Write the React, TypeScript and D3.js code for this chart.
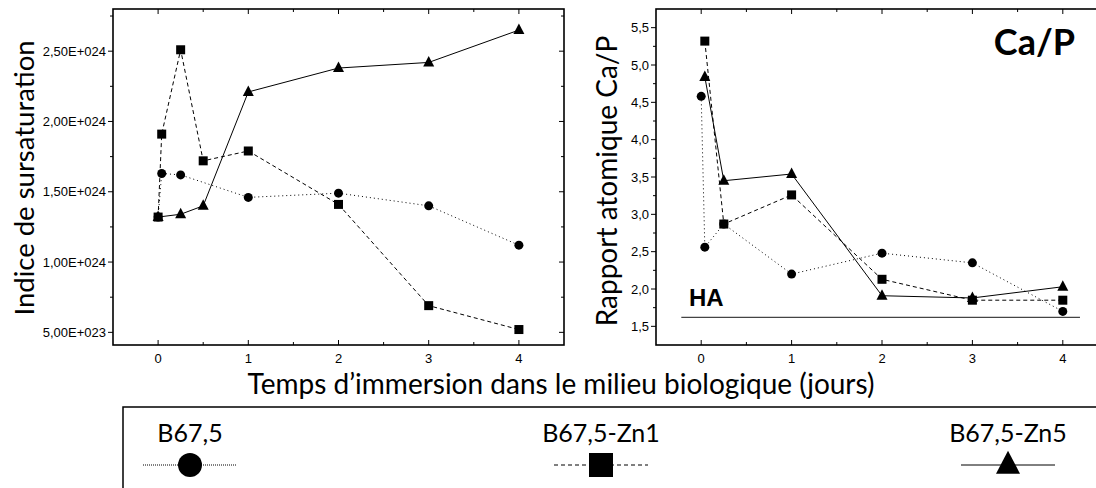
import React from 'react';
import { useRef, useEffect } from 'react';
import * as d3 from 'd3';

// time points (days) : 0, 1h, 6h, 12h, 1, 2, 3, 4
const seriesNames = ['B67,5', 'B67,5-Zn1', 'B67,5-Zn5'];
const seriesMarkers = ['circle', 'square', 'triangle'];
const seriesDash = ['1,3', '4,3', null];

// Indice de sursaturation (E+024)
const ssB675X = [0, 0.04, 0.25, 1, 2, 3, 4];
const ssB675Y = [1.32, 1.63, 1.62, 1.46, 1.49, 1.4, 1.12];
const ssZn1X = [0, 0.04, 0.25, 0.5, 1, 2, 3, 4];
const ssZn1Y = [1.32, 1.91, 2.51, 1.72, 1.79, 1.41, 0.69, 0.52];
const ssZn5X = [0, 0.25, 0.5, 1, 2, 3, 4];
const ssZn5Y = [1.32, 1.34, 1.4, 2.21, 2.38, 2.42, 2.65];

// Rapport atomique Ca/P
const caB675X = [0, 0.04, 0.25, 1, 2, 3, 4];
const caB675Y = [4.58, 2.56, 2.87, 2.2, 2.48, 2.35, 1.7];
const caZn1X = [0.04, 0.25, 1, 2, 3, 4];
const caZn1Y = [5.32, 2.87, 3.26, 2.13, 1.85, 1.85];
const caZn5X = [0.04, 0.25, 1, 2, 3, 4];
const caZn5Y = [4.84, 3.45, 3.54, 1.91, 1.88, 2.03];

const haValue = 1.62;
const ssTicks = [0.5, 1.0, 1.5, 2.0, 2.5];
const ssTickLabels = ['5,00E+023', '1,00E+024', '1,50E+024', '2,00E+024', '2,50E+024'];
const caTicks = [1.5, 2.0, 2.5, 3.0, 3.5, 4.0, 4.5, 5.0, 5.5];
const xTicks = [0, 1, 2, 3, 4];

const LABEL_FONT = 'Lato, "Open Sans", sans-serif';
const TICK_FONT = '"Liberation Sans", Arial, sans-serif';

function drawMarker(g: any, kind: string, x: number, y: number, s: number) {
  if (kind === 'circle') {
    g.append('circle').attr('cx', x).attr('cy', y).attr('r', s / 2).attr('fill', '#000');
  } else if (kind === 'square') {
    g.append('rect')
      .attr('x', x - s / 2)
      .attr('y', y - s / 2)
      .attr('width', s)
      .attr('height', s)
      .attr('fill', '#000');
  } else {
    const h = s * 0.95;
    g.append('path')
      .attr('d', `M${x},${y - h * 0.62}L${x + s / 2},${y + h * 0.38}L${x - s / 2},${y + h * 0.38}Z`)
      .attr('fill', '#000');
  }
}

export default function App() {
  const svgRef = useRef<SVGSVGElement>(null);

  useEffect(() => {
    const svg = d3.select(svgRef.current);
    svg.selectAll('*').remove();

    const drawPanel = (
      left: number,
      right: number,
      yDomain: [number, number],
      ticks: number[],
      tickLabels: string[],
      minorStep: number,
      series: { xs: number[]; ys: number[] }[]
    ) => {
      const top = 9;
      const bottom = 345;
      const x = d3.scaleLinear().domain([-0.5, 4.5]).range([left, right]);
      const y = d3.scaleLinear().domain(yDomain).range([bottom, top]);
      const g = svg.append('g');

      // frame
      g.append('rect')
        .attr('x', left)
        .attr('y', top)
        .attr('width', right - left)
        .attr('height', bottom - top)
        .attr('fill', 'none')
        .attr('stroke', '#000')
        .attr('stroke-width', 1.6);

      // x ticks (bottom + top, inward)
      const xMinor = d3.range(-0.5, 4.51, 0.5).filter((v) => v > -0.5 && v < 4.5);
      xMinor.forEach((v) => {
        const major = Number.isInteger(v);
        const len = major ? 5 : 3;
        g.append('line').attr('x1', x(v)).attr('x2', x(v)).attr('y1', bottom).attr('y2', bottom - len)
          .attr('stroke', '#000');
        g.append('line').attr('x1', x(v)).attr('x2', x(v)).attr('y1', top).attr('y2', top + len)
          .attr('stroke', '#000');
      });
      xTicks.forEach((v) => {
        g.append('text')
          .attr('x', x(v))
          .attr('y', bottom + 18)
          .attr('text-anchor', 'middle')
          .style('font-family', TICK_FONT)
          .style('font-size', '13px')
          .text(String(v));
      });

      // y ticks (left outward, right inward)
      const yMinor = d3.range(ticks[0] - minorStep, yDomain[1], minorStep).filter(
        (v) => v > yDomain[0] && v < yDomain[1]
      );
      yMinor.forEach((v) => {
        const major = ticks.some((t) => Math.abs(t - v) < 1e-6);
        const len = major ? 5 : 3;
        g.append('line').attr('x1', left).attr('x2', left - len).attr('y1', y(v)).attr('y2', y(v))
          .attr('stroke', '#000');
        g.append('line').attr('x1', right).attr('x2', right - len).attr('y1', y(v)).attr('y2', y(v))
          .attr('stroke', '#000');
      });
      ticks.forEach((v, i) => {
        g.append('text')
          .attr('x', left - 7)
          .attr('y', y(v) + 4.5)
          .attr('text-anchor', 'end')
          .style('font-family', TICK_FONT)
          .style('font-size', '13px')
          .text(tickLabels[i]);
      });

      // series
      series.forEach((s, i) => {
        const pts = s.xs.map((v, j) => [x(v), y(s.ys[j])] as [number, number]);
        const path = g.append('path')
          .attr('d', d3.line()(pts))
          .attr('fill', 'none')
          .attr('stroke', '#000')
          .attr('stroke-width', 1);
        if (seriesDash[i]) path.attr('stroke-dasharray', seriesDash[i]);
      });
      series.forEach((s, i) => {
        const size = seriesMarkers[i] === 'triangle' ? 11 : 9;
        s.xs.forEach((v, j) => drawMarker(g, seriesMarkers[i], x(v), y(s.ys[j]), size));
      });
      return { x, y, g };
    };

    drawPanel(113, 564, [0.41, 2.8], ssTicks, ssTickLabels, 0.25, [
      { xs: ssB675X, ys: ssB675Y },
      { xs: ssZn1X, ys: ssZn1Y },
      { xs: ssZn5X, ys: ssZn5Y },
    ]);

    const right = drawPanel(656, 1108, [1.25, 5.75], caTicks, caTicks.map((v) => v.toFixed(1).replace('.', ',')), 0.25, [
      { xs: caB675X, ys: caB675Y },
      { xs: caZn1X, ys: caZn1Y },
      { xs: caZn5X, ys: caZn5Y },
    ]);

    // HA reference line
    right.g.append('line')
      .attr('x1', right.x(-0.22))
      .attr('x2', right.x(4.19))
      .attr('y1', right.y(haValue))
      .attr('y2', right.y(haValue))
      .attr('stroke', '#444')
      .attr('stroke-width', 1.2);
    right.g.append('text')
      .attr('x', 689)
      .attr('y', 306)
      .style('font-family', TICK_FONT)
      .style('font-weight', 'bold')
      .style('font-size', '24px')
      .text('HA');
    right.g.append('text')
      .attr('x', 1075)
      .attr('y', 55)
      .attr('text-anchor', 'end')
      .style('font-family', LABEL_FONT)
      .style('font-weight', 'bold')
      .style('font-size', '36px')
      .text('Ca/P');

    // axis titles
    svg.append('text')
      .attr('transform', 'translate(34,178) rotate(-90)')
      .attr('text-anchor', 'middle')
      .style('font-family', LABEL_FONT)
      .style('font-size', '27.5px')
      .text('Indice de sursaturation');
    svg.append('text')
      .attr('transform', 'translate(617,181) rotate(-90)')
      .attr('text-anchor', 'middle')
      .style('font-family', LABEL_FONT)
      .style('font-size', '28px')
      .text('Rapport atomique Ca/P');
    svg.append('text')
      .attr('x', 561)
      .attr('y', 394)
      .attr('text-anchor', 'middle')
      .style('font-family', LABEL_FONT)
      .style('font-size', '28px')
      .text('Temps d\u2019immersion dans le milieu biologique (jours)');

    // legend box
    svg.append('rect')
      .attr('x', 123)
      .attr('y', 407)
      .attr('width', 1000)
      .attr('height', 120)
      .attr('fill', 'none')
      .attr('stroke', '#000')
      .attr('stroke-width', 1.5);
    const legendX = [190, 601, 1008];
    seriesNames.forEach((name, i) => {
      const cx = legendX[i];
      svg.append('text')
        .attr('x', cx)
        .attr('y', 442)
        .attr('text-anchor', 'middle')
        .style('font-family', LABEL_FONT)
        .style('font-size', '25px')
        .text(name);
      const ln = svg.append('line')
        .attr('x1', cx - 47)
        .attr('x2', cx + 47)
        .attr('y1', 465)
        .attr('y2', 465)
        .attr('stroke', '#000')
        .attr('stroke-width', 1);
      if (seriesDash[i]) ln.attr('stroke-dasharray', i === 0 ? '1,1' : '4,3');
      drawMarker(svg, seriesMarkers[i], cx, 465, 24);
    });
  }, []);

  return (
    <div style={{ position: 'fixed', left: 0, top: 0 }}>
      <svg ref={svgRef} width={1096} height={488} style={{ display: 'block', background: '#fff' }}></svg>
    </div>
  );
}
